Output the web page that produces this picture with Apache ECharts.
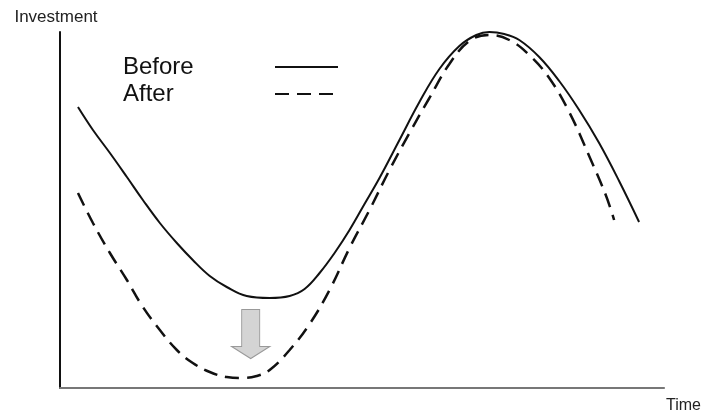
<!DOCTYPE html>
<html>
<head>
    <meta charset="UTF-8">
    <title>Investment before / after</title>
    <script src="https://cdn.jsdelivr.net/npm/echarts/dist/echarts.min.js"></script>
    <style>
        html, body { margin: 0; padding: 0; background: #fff; }
        #chart { width: 704px; height: 415px; }
    </style>
</head>
<body>
    <div id="chart"></div>
    <script>
        // 数据 (arbitrary units: time 0-605, investment 0-356)
        var seriesNames = ['Before', 'After'];
        var beforeData = [
            [18, 281], [33, 258], [50, 235], [67, 211], [83, 188], [100, 165],
            [117, 145], [133, 128], [150, 112], [167, 101], [187, 92], [210, 90],
            [230, 92], [245, 99], [260, 115], [275, 135], [290, 158], [305, 184],
            [320, 210], [340, 248], [360, 286], [380, 319], [400, 342], [417, 353],
            [430, 356], [445, 354], [460, 348], [480, 331], [500, 307], [520, 278],
            [540, 245], [560, 207], [580, 166]
        ];
        var afterData = [
            [18, 195], [33, 165], [50, 135], [67, 108], [83, 81], [100, 58],
            [117, 38], [133, 25], [150, 16], [167, 11], [183, 10], [197, 12],
            [210, 18], [230, 38], [250, 64], [270, 98], [290, 140], [310, 178],
            [330, 218], [350, 255], [370, 290], [390, 324], [410, 347], [430, 353],
            [450, 348], [470, 333], [490, 310], [510, 276], [530, 232], [547, 192],
            [555, 168]
        ];
        // arrow showing the drop
        var arrowAt = [191, 54];

        var chart = echarts.init(document.getElementById('chart'));
        var font = '"Liberation Sans", Arial, sans-serif';

        var option = {
            backgroundColor: '#fff',
            animation: false,
            grid: { left: 60, right: 39, top: 32, bottom: 27 },
            legend: {
                data: seriesNames,
                orient: 'vertical',
                left: 118,
                top: 50,
                align: 'right',
                itemWidth: 63,
                itemHeight: 14,
                itemGap: 3,
                selectedMode: false,
                itemStyle: { opacity: 0 },
                formatter: function (name) { return '{t|' + name + '}'; },
                textStyle: {
                    rich: {
                        t: { width: 147, align: 'left', fontSize: 24, lineHeight: 28, fontFamily: font, color: '#111' }
                    }
                }
            },
            xAxis: {
                type: 'value',
                min: 0,
                max: 605,
                name: 'Time',
                nameLocation: 'end',
                nameGap: 2,
                nameTextStyle: { fontFamily: font, fontSize: 16, color: '#222', verticalAlign: 'top', padding: [10, 0, 0, 0] },
                axisLine: { show: true, lineStyle: { color: '#777', width: 2 } },
                axisTick: { show: false },
                axisLabel: { show: false },
                splitLine: { show: false }
            },
            yAxis: {
                type: 'value',
                min: 0,
                max: 356,
                name: 'Investment',
                nameLocation: 'end',
                nameGap: 6,
                nameTextStyle: { fontFamily: font, fontSize: 17, color: '#222', padding: [0, 8, 0, 0] },
                axisLine: { show: true, lineStyle: { color: '#111', width: 2 } },
                axisTick: { show: false },
                axisLabel: { show: false },
                splitLine: { show: false }
            },
            series: [
                {
                    name: 'Before',
                    type: 'line',
                    data: beforeData,
                    smooth: 0.4,
                    symbol: 'none',
                    lineStyle: { color: '#111', width: 2 },
                    itemStyle: { color: '#111' }
                },
                {
                    name: 'After',
                    type: 'line',
                    data: afterData,
                    smooth: 0.4,
                    symbol: 'none',
                    lineStyle: { color: '#111', width: 2.5, type: [14, 8] },
                    itemStyle: { color: '#111' },
                    markPoint: {
                        silent: true,
                        symbol: 'path://M10,0 L28,0 L28,37 L38,37 L19,49 L0,37 L10,37 Z',
                        symbolSize: [38, 49],
                        itemStyle: { color: '#d4d4d4', borderColor: '#999', borderWidth: 1 },
                        label: { show: false },
                        data: [{ coord: arrowAt }]
                    }
                }
            ]
        };

        chart.setOption(option);
    </script>
</body>
</html>
